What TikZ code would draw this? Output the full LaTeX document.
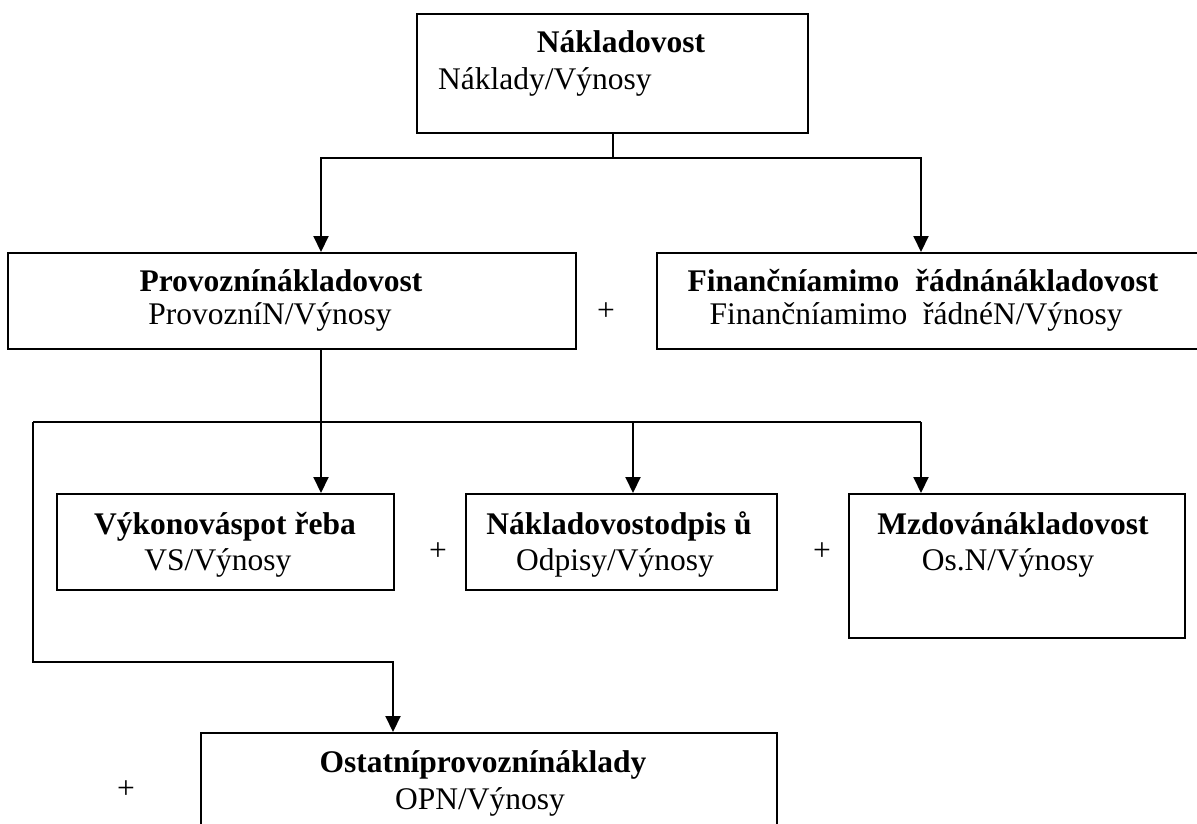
\documentclass[tikz,border=0pt]{standalone}
\usepackage{fontspec}
\setmainfont{Liberation Serif}
\usetikzlibrary{arrows.meta}
\begin{document}
\begin{tikzpicture}[x=1pt,y=-1pt,
  box/.style={draw, line width=2pt, inner sep=0pt},
  conn/.style={line width=2pt},
  arr/.style={line width=2pt, -{Triangle[length=16pt,width=15pt]}},
  txt/.style={inner sep=0pt, font=\fontsize{31.5}{36}\selectfont, text height=22pt, text depth=7pt},
  btxt/.style={txt, font=\fontsize{31.5}{36}\selectfont\bfseries},
  plus/.style={inner sep=0pt, font=\fontsize{31.5}{36}\selectfont}]
\useasboundingbox (0,0) rectangle (1197,823);

% boxes
\node[box, minimum width=391pt, minimum height=119pt] (top) at (612.5,73.5) {};
\node[box, minimum width=568pt, minimum height=96pt] (prov) at (292,301) {};
\node[box, minimum width=548pt, minimum height=96pt] (fin) at (931,301) {};
\node[box, minimum width=337pt, minimum height=96pt] (vyk) at (225.5,542) {};
\node[box, minimum width=311pt, minimum height=96pt] (odp) at (621.5,542) {};
\node[box, minimum width=336pt, minimum height=144pt] (mzd) at (1017,566) {};
\node[box, minimum width=576pt, minimum height=107pt] (ost) at (489,786.5) {};

% texts
\node[btxt] (t1a) at (621,45) {Nákladovost};
\node[txt, anchor=west] (t1b) at (438,82) {Náklady/Výnosy};
\node[btxt] (t2a) at (281,284) {Provoznínákladovost};
\node[txt] (t2b) at (270,317) {ProvozníN/Výnosy};
\node[btxt] (t3a) at (923,284) {Finančníamimo\ \ řádnánákladovost};
\node[txt] (t3b) at (916,317) {Finančníamimo\ \ řádnéN/Výnosy};
\node[btxt] (t4a) at (225,527) {Výkonováspot řeba};
\node[txt] (t4b) at (218,563) {VS/Výnosy};
\node[btxt] (t5a) at (619,527) {Nákladovostodpis ů};
\node[txt] (t5b) at (615,563) {Odpisy/Výnosy};
\node[btxt] (t6a) at (1013,527) {Mzdovánákladovost};
\node[txt] (t6b) at (1008,563) {Os.N/Výnosy};
\node[btxt] (t7a) at (483,765) {Ostatníprovoznínáklady};
\node[txt] (t7b) at (480,802) {OPN/Výnosy};

% plus signs
\node[plus] (p1) at (606,312) {+};
\node[plus] (p2) at (438,552) {+};
\node[plus] (p3) at (822,552) {+};
\node[plus] (p4) at (126,790) {+};

% junction coordinates
\coordinate (h1L) at (321,158);
\coordinate (h1R) at (921,158);
\coordinate (v2) at (321,422);
\coordinate (h2L) at (33,422);
\coordinate (h2M) at (633,422);
\coordinate (h2R) at (921,422);
\coordinate (h3) at (393,662);

% connectors
\draw[arr] (top.south) |- (h1L) -- (h1L |- prov.north);
\draw[arr] (top.south) |- (h1R) -- (h1R |- fin.north);
\draw[arr] (prov.south -| v2) -- (vyk.north -| v2);
\draw[conn] (h2L) -- (h2R);
\draw[arr] (h2M) -- (h2M |- odp.north);
\draw[arr] (h2R) -- (h2R |- mzd.north);
\draw[arr] (h2L) |- (h3) -- (h3 |- ost.north);
\end{tikzpicture}
\end{document}
